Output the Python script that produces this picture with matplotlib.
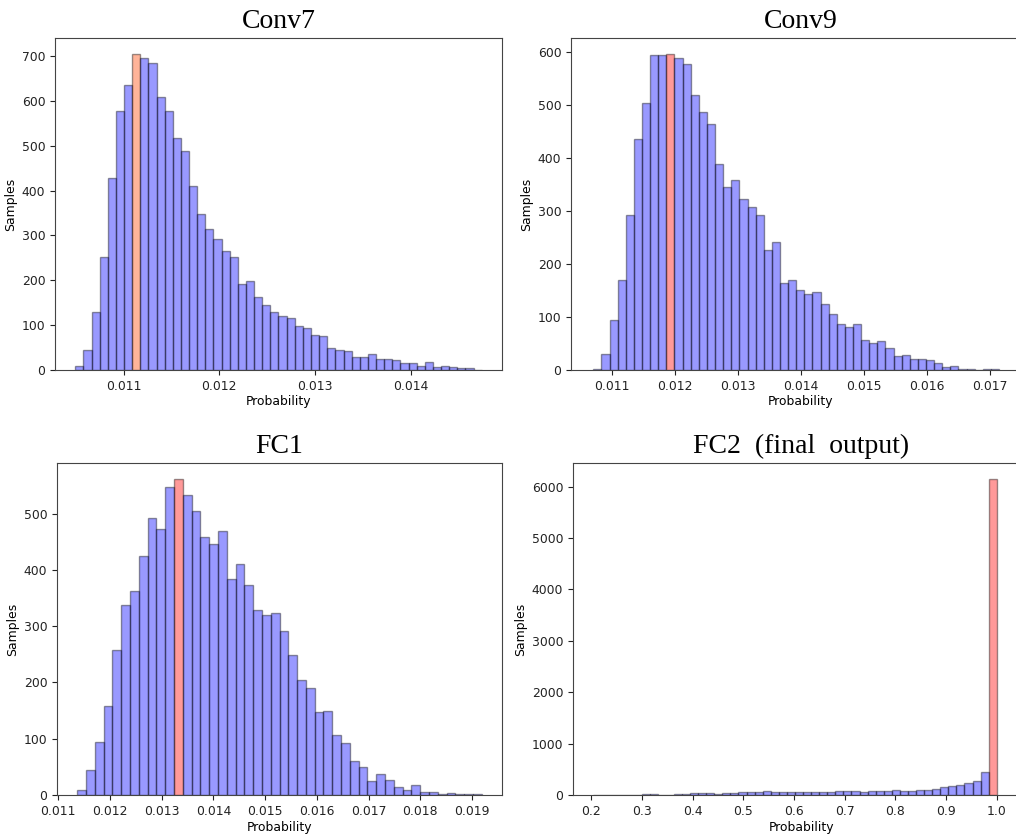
import numpy as np
import matplotlib
matplotlib.use('Agg')
import matplotlib.pyplot as plt
from matplotlib.ticker import MultipleLocator

plt.rcParams['savefig.bbox'] = 'standard'

# bin ranges (lo, hi) and counts per layer
conv7_range = (0.010494, 0.014744)
conv7_counts = [8, 45, 129, 251, 427, 578, 635, 705, 696, 685,
                609, 577, 518, 488, 411, 348, 314, 292, 266, 251,
                191, 199, 162, 146, 129, 121, 116, 99, 93, 78,
                76, 50, 45, 42, 30, 30, 36, 24, 25, 22,
                16, 15, 8, 18, 7, 10, 7, 4, 5, 1]

conv9_range = (0.010698, 0.017148)
conv9_counts = [2, 31, 94, 169, 292, 436, 504, 593, 593, 596,
                588, 577, 518, 487, 464, 389, 345, 358, 322, 307,
                292, 227, 242, 164, 169, 150, 143, 147, 125, 106,
                86, 81, 86, 57, 50, 55, 42, 26, 28, 20,
                21, 18, 14, 6, 8, 2, 1, 0, 1, 1]

fc1_range = (0.011368, 0.019188)
fc1_counts = [8, 45, 95, 159, 258, 338, 363, 425, 493, 472,
              548, 562, 534, 504, 458, 446, 470, 384, 411, 374,
              328, 320, 324, 291, 248, 205, 190, 148, 150, 107,
              92, 60, 49, 24, 37, 26, 14, 9, 17, 5,
              6, 2, 4, 2, 2, 1]

fc2_range = (0.2035, 1.0)
fc2_counts = [5, 5, 6, 6, 8, 8, 15, 15, 8, 8,
              18, 18, 38, 38, 38, 25, 35, 38, 58, 65,
              58, 78, 65, 58, 58, 60, 60, 60, 60, 55,
              80, 80, 85, 65, 72, 72, 72, 98, 80, 85,
              98, 104, 110, 163, 170, 195, 228, 280, 450, 6150]

titles = ["Conv7", "Conv9", "FC1", "FC2  (final  output)"]

W, H = 1016, 835
fig = plt.figure(figsize=(W / 100, H / 100), dpi=100)

# axes boxes in pixels: left, right, top, bottom
# (right column runs off the canvas, as in the cropped original)
boxes = [(55, 502, 38, 370), (571, 1030, 38, 370),
         (57, 502, 463, 795), (573, 1030, 463, 795)]
xlims = [None, (0.010343, 0.017640), None, (0.1637, 1.0656)]

panels = [(conv7_range, conv7_counts, 'orangered', 0.001, 100),
          (conv9_range, conv9_counts, 'red', 0.001, 100),
          (fc1_range, fc1_counts, 'red', 0.001, 100),
          (fc2_range, fc2_counts, 'red', 0.1, 1000)]

for (l, r, t, b), (rng, counts, hicol, xstep, ystep), title, xl in zip(boxes, panels, titles, xlims):
    ax = fig.add_axes([l / W, 1 - b / H, (r - l) / W, (b - t) / H])
    counts = np.array(counts)
    edges = np.linspace(rng[0], rng[1], len(counts) + 1)
    bars = ax.bar(edges[:-1], counts, width=np.diff(edges), align='edge',
                  color='blue', alpha=0.4, edgecolor='black', linewidth=1.0)
    bars[int(np.argmax(counts))].set_facecolor(hicol)
    if xl is not None:
        ax.set_xlim(*xl)
    ax.xaxis.set_major_locator(MultipleLocator(xstep))
    ax.yaxis.set_major_locator(MultipleLocator(ystep))
    ax.tick_params(labelsize=8.9, colors='#222222')
    ax.set_xlabel("Probability", fontsize=8.9, labelpad=2)
    ax.set_ylabel("Samples", fontsize=8.9, labelpad=3)
    ax.set_title(title, fontfamily='Liberation Serif', fontsize=20, pad=7)
    for s in ax.spines.values():
        s.set_color('#444444')

fig.savefig("out.png", dpi=100, bbox_inches=None)
